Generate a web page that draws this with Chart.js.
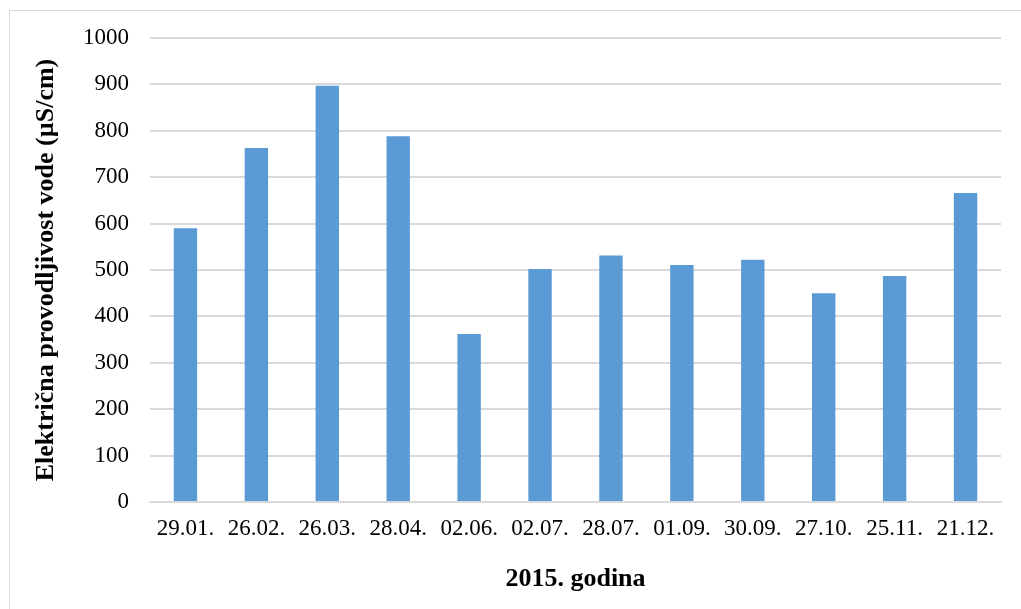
<!DOCTYPE html>
<html>
<head>
<meta charset="utf-8">
<script src="https://cdn.jsdelivr.net/npm/chart.js@4/dist/chart.umd.min.js"></script>
<style>
  html, body { margin: 0; padding: 0; background: #ffffff; }
  #frame {
    position: absolute;
    left: 9px; top: 10px;
    width: 1020px; height: 610px;
    border: 1px solid #d9d9d9;
    box-sizing: border-box;
  }
  #wrap { position: absolute; left: 0; top: 0; width: 1021px; height: 609px; }
</style>
</head>
<body>
<div id="frame"></div>
<div id="wrap"><canvas id="conductivityChart" width="1021" height="609"></canvas></div>
<script>
// Sampling dates in 2015
const dates = ['29.01.', '26.02.', '26.03.', '28.04.', '02.06.', '02.07.',
               '28.07.', '01.09.', '30.09.', '27.10.', '25.11.', '21.12.'];
// Electrical conductivity of water (µS/cm)
const conductivity = [590, 763, 897, 788, 362, 502, 531, 511, 522, 450, 487, 666];
// Y axis range
const yMin = 0;
const yMax = 1000;
const yStep = 100;

const ctx = document.getElementById('conductivityChart').getContext('2d');

const serif = 'Liberation Serif, "Times New Roman", serif';

new Chart(ctx, {
  type: 'bar',
  data: {
    labels: dates,
    datasets: [{
      label: 'Električna provodljivost vode',
      data: conductivity,
      backgroundColor: '#5b9bd5',
      borderWidth: 0,
      categoryPercentage: 1,
      barPercentage: 0.33
    }]
  },
  options: {
    responsive: false,
    animation: false,
    layout: { padding: { left: 10, right: 20, top: 38, bottom: 0 } },
    plugins: {
      legend: { display: false },
      tooltip: { enabled: false }
    },
    scales: {
      x: {
        grid: { display: false, drawTicks: false },
        border: { display: true, color: '#d9d9d9', width: 2 },
        ticks: {
          color: '#000',
          font: { family: serif, size: 23 },
          padding: 13,
          maxRotation: 0,
          autoSkip: false
        },
        title: {
          display: true,
          text: '2015. godina',
          color: '#000',
          font: { family: serif, size: 26, weight: 'bold' },
          padding: { top: 0, bottom: 14 }
        },
        afterFit: function (scale) { scale.height = 107; }
      },
      y: {
        min: yMin,
        max: yMax,
        grid: { color: '#d9d9d9', lineWidth: 2, drawTicks: false },
        border: { display: false },
        ticks: {
          stepSize: yStep,
          color: '#000',
          font: { family: serif, size: 23 },
          padding: 21,
          callback: function (value) { return String(value); }
        },
        title: {
          display: true,
          text: 'Električna provodljivost vode (µS/cm)',
          color: '#000',
          font: { family: serif, size: 26, weight: 'bold' },
          padding: { top: 21, bottom: 0 }
        },
        afterFit: function (scale) { scale.width = 140; }
      }
    }
  }
});
</script>
</body>
</html>
